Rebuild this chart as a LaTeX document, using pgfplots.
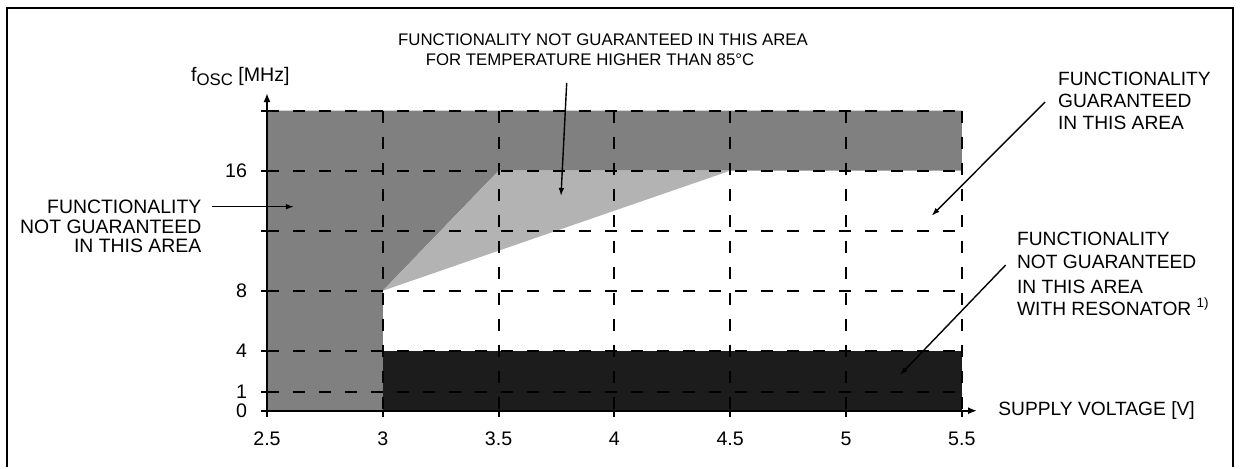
\documentclass[border=0pt]{standalone}
\usepackage{fontspec}
\setmainfont{Liberation Sans}
\usepackage{pgfplots}
\pgfplotsset{compat=1.18}
\usetikzlibrary{arrows.meta}
\definecolor{dgray}{HTML}{808080}
\definecolor{lgray}{HTML}{B3B3B3}
\definecolor{blk}{HTML}{1C1C1C}
\begin{document}
\begin{tikzpicture}
\begin{scope}[x=0.5pt,y=-0.5pt,shift={(-267,-410.7)}]
  \useasboundingbox (0,0) rectangle (1242,467);
\end{scope}
\begin{axis}[
  at={(0,0)}, anchor=south west,
  x=115.8pt, y=7.5pt,
  xmin=2.5, xmax=5.566, ymin=0, ymax=21.18,
  axis lines=left,
  axis line style={line width=1pt, -{Latex[length=4.5pt,width=3.5pt]}},
  axis on top,
  clip=false,
  xtick={2.5,3,3.5,4,4.5,5,5.5},
  xticklabels={2.5,3,3.5,4,4.5,5,5.5},
  ytick={0,1.27,4,8,12,16,20},
  yticklabels={0,1,4,8,,16,},
  tick align=outside,
  major tick length=3pt,
  tick style={line width=1pt, black},
  tick label style={font=\fontsize{9.8}{11}\selectfont},
  /pgf/number format/assume math mode=true,
  xticklabel style={yshift=-4pt},
  yticklabel style={xshift=-3.5pt},
  grid line/.style={line width=1pt, black, dash pattern=on 6pt off 7pt},
]
% regions
\addplot[fill=dgray, draw=none] coordinates {(2.5,0) (3,0) (3,8) (3.5,16) (5.5,16) (5.5,20) (2.5,20)};
\addplot[fill=lgray, draw=none] coordinates {(3,8) (3.5,16) (4.5,16)};
\addplot[fill=blk, draw=none] coordinates {(3,0) (5.5,0) (5.5,4) (3,4)};
% dashed grid
\addplot[grid line] coordinates {(2.5,20) (2.5,0)};
\addplot[grid line] coordinates {(3,20) (3,0)};
\addplot[grid line] coordinates {(3.5,20) (3.5,0)};
\addplot[grid line] coordinates {(4,20) (4,0)};
\addplot[grid line] coordinates {(4.5,20) (4.5,0)};
\addplot[grid line] coordinates {(5,20) (5,0)};
\addplot[grid line] coordinates {(5.5,20) (5.5,0)};
\addplot[grid line] coordinates {(2.5,1.27) (5.5,1.27)};
\addplot[grid line] coordinates {(2.5,4) (5.5,4)};
\addplot[grid line] coordinates {(2.5,8) (5.5,8)};
\addplot[grid line] coordinates {(2.5,12) (5.5,12)};
\addplot[grid line] coordinates {(2.5,16) (5.5,16)};
\addplot[grid line] coordinates {(2.5,20) (5.5,20)};
\end{axis}
\begin{scope}[x=0.5pt,y=-0.5pt,shift={(-267,-410.7)}]
  % frame
  \draw[line width=1.2pt] (7,467) -- (7,8) -- (1233,8) -- (1233,467);
  % axis titles
  \node[anchor=base east, inner sep=0pt, font=\fontsize{9.8}{11}\selectfont] at (290,81) {f\raisebox{-2pt}{\fontsize{8.4}{9}\selectfont OSC} [MHz]};
  \node[anchor=base west, inner sep=0pt, font=\fontsize{9.6}{11}\selectfont] at (998,415) {SUPPLY VOLTAGE [V]};
  % top label
  \node[anchor=base, inner sep=0pt, font=\fontsize{8.4}{10}\selectfont] at (603,45) {FUNCTIONALITY NOT GUARANTEED IN THIS AREA};
  \node[anchor=base, inner sep=0pt, font=\fontsize{8.4}{10}\selectfont] at (590,65) {FOR TEMPERATURE HIGHER THAN 85°C};
  \draw[line width=0.7pt, -{Latex[length=4pt,width=2.8pt]}] (566.7,83) -- (561,196);
  % left label
  \begin{scope}[every node/.style={anchor=base east, inner sep=0pt, font=\fontsize{9.7}{11}\selectfont}]
    \node at (201.7,213) {FUNCTIONALITY};
    \node at (201.7,233) {NOT GUARANTEED};
    \node at (201.7,252) {IN THIS AREA};
  \end{scope}
  \draw[line width=0.7pt, -{Latex[length=4pt,width=2.8pt]}] (212,206.7) -- (294,206.7);
  % right labels
  \begin{scope}[every node/.style={anchor=base west, inner sep=0pt, font=\fontsize{9.6}{11}\selectfont}]
    \node at (1057.7,85) {FUNCTIONALITY};
    \node at (1057.7,107) {GUARANTEED};
    \node at (1057.7,129) {IN THIS AREA};
    \node at (1016.7,245) {FUNCTIONALITY};
    \node at (1016.7,268) {NOT GUARANTEED};
    \node at (1016.7,293) {IN THIS AREA};
    \node at (1016.7,315) {WITH RESONATOR \textsuperscript{1)}};
  \end{scope}
  \draw[line width=0.7pt, -{Latex[length=4pt,width=2.8pt]}] (1045,102) -- (931.7,215.7);
  \draw[line width=0.7pt, -{Latex[length=4pt,width=2.8pt]}] (1005.7,265) -- (900,375);
\end{scope}
\end{tikzpicture}
\end{document}
